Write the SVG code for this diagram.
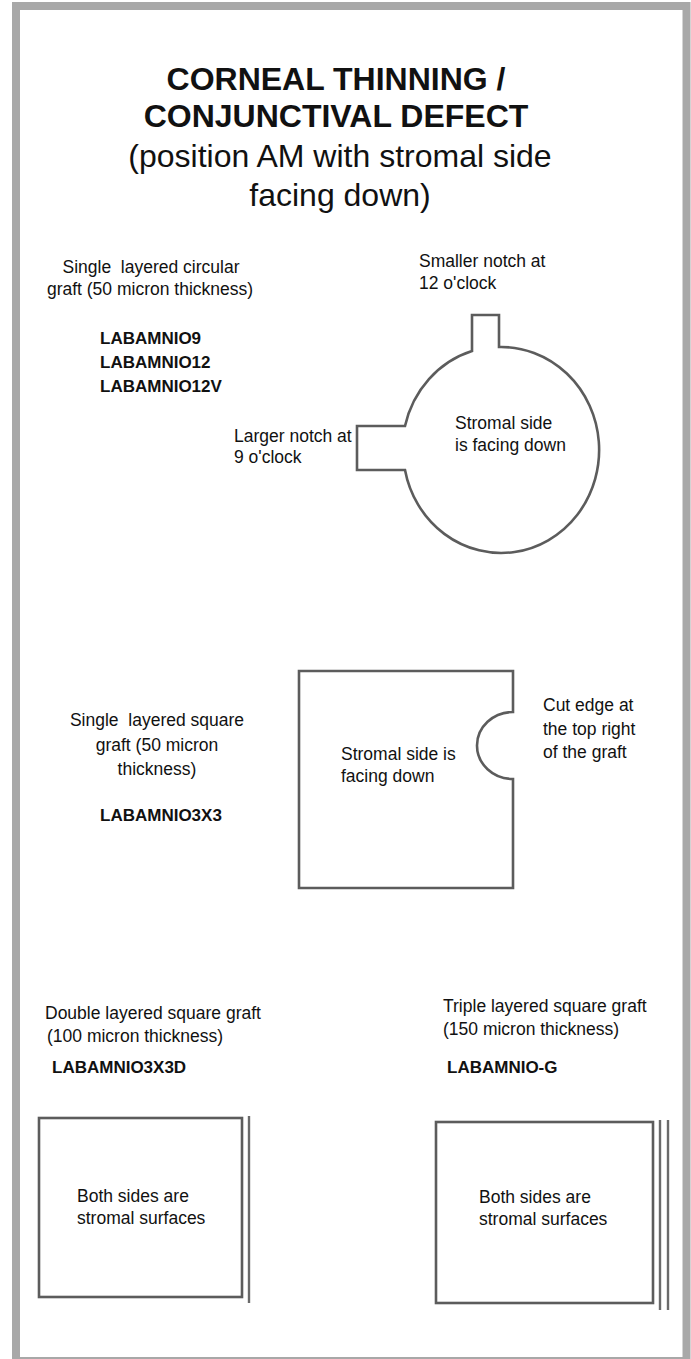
<svg xmlns="http://www.w3.org/2000/svg" width="691" height="1359" viewBox="0 0 691 1359">
<style>
  text { font-family: "Liberation Sans", Arial, sans-serif; fill: #111; white-space: pre; }
  .title { font-size: 32px; font-weight: bold; text-anchor: middle; }
  .sub { font-size: 32px; text-anchor: middle; }
  .lbl { font-size: 17.5px; }
  .mid { text-anchor: middle; }
  .code { font-size: 17px; font-weight: bold; }
  .shape { fill: #ffffff; stroke: #5c5c5c; stroke-width: 2.6; stroke-linejoin: miter; }
  .layer { fill: none; stroke: #6a6a6a; stroke-width: 2.4; }
</style>
<rect x="0" y="0" width="691" height="1359" fill="#ffffff"/>
<g id="frame">
  <rect x="16" y="6" width="670.5" height="1355" fill="#ffffff" stroke="#a8a8a8" stroke-width="8"/>
</g>
<g id="title">
  <text class="title" x="336" y="90">CORNEAL THINNING /</text>
  <text class="title" x="336" y="127">CONJUNCTIVAL DEFECT</text>
  <text class="sub" x="340" y="167">(position AM with stromal side</text>
  <text class="sub" x="340" y="206">facing down)</text>
</g>
<g id="connectors"></g>
<g id="circular-graft">
  <path class="shape" d="M 472,351 V 315 H 499 V 347 A 98 103 0 1 1 405,470 H 357 V 426 H 405 A 98 103 0 0 1 472,351 Z"/>
  <text class="lbl" x="455" y="429">Stromal side</text>
  <text class="lbl" x="455" y="451">is facing down</text>
</g>
<g id="circular-label">
  <text class="lbl mid" x="151" y="273">Single  layered circular</text>
  <text class="lbl mid" x="150" y="295">graft (50 micron thickness)</text>
  <text class="code" x="100" y="344">LABAMNIO9</text>
  <text class="code" x="100" y="368">LABAMNIO12</text>
  <text class="code" x="100" y="392">LABAMNIO12V</text>
</g>
<g id="small-notch-label">
  <text class="lbl" x="419" y="267">Smaller notch at</text>
  <text class="lbl" x="419" y="289">12 o'clock</text>
</g>
<g id="large-notch-label">
  <text class="lbl" x="234" y="442">Larger notch at</text>
  <text class="lbl" x="234" y="463">9 o'clock</text>
</g>
<g id="square-graft">
  <path class="shape" d="M 299,671 H 513 V 712 A 36 33.5 0 0 0 513,779 V 888 H 299 Z"/>
  <text class="lbl" x="341" y="760">Stromal side is</text>
  <text class="lbl" x="341" y="782">facing down</text>
</g>
<g id="square-label">
  <text class="lbl mid" x="157" y="726">Single  layered square</text>
  <text class="lbl mid" x="157" y="751">graft (50 micron</text>
  <text class="lbl mid" x="157" y="775">thickness)</text>
  <text class="code" x="100" y="821">LABAMNIO3X3</text>
</g>
<g id="cut-edge-label">
  <text class="lbl" x="543" y="711">Cut edge at</text>
  <text class="lbl" x="543" y="735">the top right</text>
  <text class="lbl" x="543" y="758">of the graft</text>
</g>
<g id="double-graft">
  <rect class="shape" x="39" y="1118" width="203" height="179"/>
  <line class="layer" x1="249" y1="1116" x2="249" y2="1303"/>
  <text class="lbl" x="77" y="1202">Both sides are</text>
  <text class="lbl" x="77" y="1224">stromal surfaces</text>
</g>
<g id="double-label">
  <text class="lbl" x="45" y="1019">Double layered square graft</text>
  <text class="lbl" x="47" y="1042">(100 micron thickness)</text>
  <text class="code" x="52" y="1073">LABAMNIO3X3D</text>
</g>
<g id="triple-graft">
  <rect class="shape" x="436" y="1122" width="217" height="181"/>
  <line class="layer" x1="660" y1="1120" x2="660" y2="1310"/>
  <line class="layer" x1="668" y1="1120" x2="668" y2="1310"/>
  <text class="lbl" x="479" y="1203">Both sides are</text>
  <text class="lbl" x="479" y="1225">stromal surfaces</text>
</g>
<g id="triple-label">
  <text class="lbl" x="443" y="1012">Triple layered square graft</text>
  <text class="lbl" x="443" y="1035">(150 micron thickness)</text>
  <text class="code" x="447" y="1073">LABAMNIO-G</text>
</g>
</svg>
